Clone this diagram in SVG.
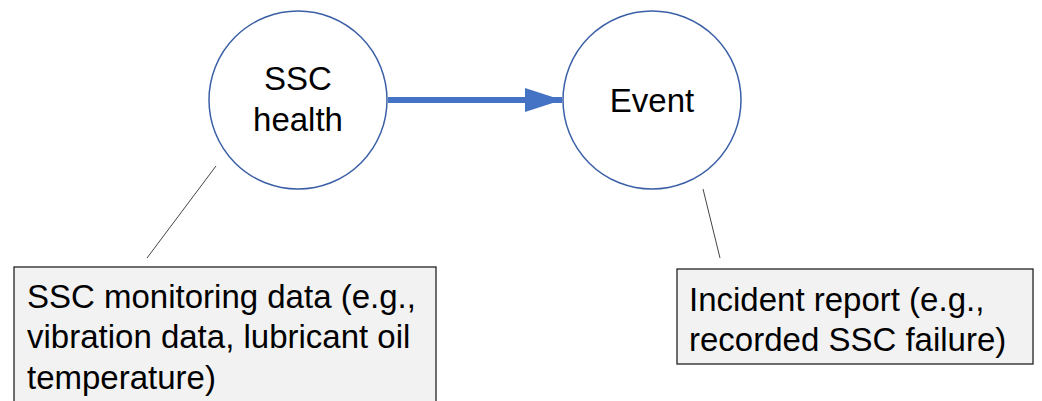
<svg xmlns="http://www.w3.org/2000/svg" width="1042" height="401" viewBox="0 0 1042 401">
  <style>
    .node { fill: #ffffff; stroke: #3b5fa6; stroke-width: 1.5; }
    .note { fill: #f2f2f2; stroke: #222222; stroke-width: 1.3; }
    .lbl { font-family: "Liberation Sans", Arial, sans-serif; font-size: 33px; fill: #000000; }
    .mid { text-anchor: middle; }
    .lead { stroke: #444444; stroke-width: 1; }
  </style>
  <defs>
    <marker id="head" markerWidth="6.2" markerHeight="4" refX="6.2" refY="2" orient="auto" markerUnits="strokeWidth">
      <path d="M0,0 L6.2,2 L0,4 Z" fill="#4472c4"/>
    </marker>
  </defs>
  <rect width="1042" height="401" fill="#ffffff"/>

  <g id="connectors">
    <line x1="388" y1="100" x2="562" y2="100" stroke="#4472c4" stroke-width="6" marker-end="url(#head)"/>
    <line class="lead" x1="216" y1="166" x2="147" y2="258"/>
    <line class="lead" x1="703" y1="189" x2="720" y2="258"/>
  </g>

  <g id="ssc-health">
    <circle class="node" cx="298" cy="100" r="89"/>
    <text class="lbl mid" x="298" y="90">SSC</text>
    <text class="lbl mid" x="298" y="131">health</text>
  </g>

  <g id="event">
    <circle class="node" cx="652" cy="100" r="89"/>
    <text class="lbl mid" x="652" y="112">Event</text>
  </g>

  <g id="monitoring-data">
    <rect class="note" x="14" y="267" width="422" height="140"/>
    <text class="lbl" x="27" y="308">SSC monitoring data (e.g.,</text>
    <text class="lbl" x="27" y="348">vibration data, lubricant oil</text>
    <text class="lbl" x="27" y="389">temperature)</text>
  </g>

  <g id="incident-report">
    <rect class="note" x="677" y="269" width="356" height="95"/>
    <text class="lbl" x="689" y="311">Incident report (e.g.,</text>
    <text class="lbl" x="689" y="351">recorded SSC failure)</text>
  </g>
</svg>
